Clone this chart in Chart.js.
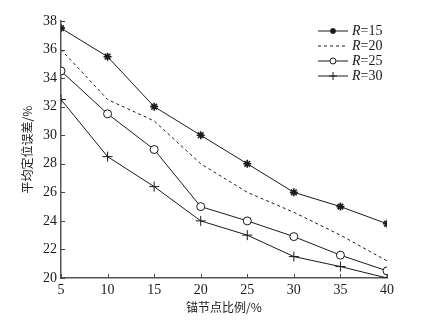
<!DOCTYPE html>
<html>
<head>
<meta charset="utf-8">
<script src="https://cdn.jsdelivr.net/npm/chart.js@4"></script>
<style>
  html, body { margin: 0; padding: 0; background: #fff; }
  #wrap { width: 423px; height: 328px; }
</style>
</head>
<body>
<div id="wrap"><canvas id="c" width="423" height="328"></canvas></div>
<script>
// ─── Data ─────────────────────────────────────────
const categories = [5, 10, 15, 20, 25, 30, 35, 40];
const r15 = [37.5, 35.5, 32.0, 30.0, 28.0, 26.0, 25.0, 23.8];
const r20 = [36.0, 32.5, 31.0, 28.0, 26.0, 24.6, 23.0, 21.2];
const r25 = [34.5, 31.5, 29.0, 25.0, 24.0, 22.9, 21.6, 20.5];
const r30 = [32.5, 28.5, 26.4, 24.0, 23.0, 21.5, 20.8, 20.0];
const seriesNames = ['15', '20', '25', '30'];
const yTicks = [20, 22, 24, 26, 28, 30, 32, 34, 36, 38];

const INK = '#1a1a1a';
const SERIF = "'Liberation Serif', 'DejaVu Serif', serif";
const CJK = "'Noto Sans CJK SC', sans-serif";

const toPts = arr => arr.map((v, i) => ({ x: categories[i], y: v }));

// ─── Inward ticks + custom legend with italic R ───
const decor = {
  id: 'decor',
  afterDraw(chart) {
    const { ctx, scales: { x, y }, chartArea } = chart;
    ctx.save();
    ctx.strokeStyle = '#444';
    ctx.lineWidth = 1;
    categories.forEach(v => {
      const px = Math.round(x.getPixelForValue(v)) + 0.5;
      ctx.beginPath();
      ctx.moveTo(px, chartArea.bottom);
      ctx.lineTo(px, chartArea.bottom - 4);
      ctx.stroke();
    });
    yTicks.forEach(v => {
      const py = Math.round(y.getPixelForValue(v)) + 0.5;
      ctx.beginPath();
      ctx.moveTo(chartArea.left, py);
      ctx.lineTo(chartArea.left + 4, py);
      ctx.stroke();
    });

    // legend
    const x0 = 318, x1 = 348, tx = 352;
    chart.data.datasets.forEach((ds, i) => {
      const ly = 31 + i * 15;
      ctx.strokeStyle = INK;
      ctx.lineWidth = 1;
      ctx.setLineDash(ds.borderDash || []);
      ctx.beginPath();
      ctx.moveTo(x0, ly);
      ctx.lineTo(x1, ly);
      ctx.stroke();
      ctx.setLineDash([]);
      if (ds.pointStyle && ds.pointRadius > 0) {
        ctx.fillStyle = '#fff';
        ctx.lineWidth = ds.pointBorderWidth || 1;
        Chart.helpers.drawPoint(ctx, {
          pointStyle: ds.pointStyle,
          radius: ds.pointRadius - 1,
          borderWidth: ds.pointBorderWidth || 1,
          rotation: 0
        }, (x0 + x1) / 2, ly);
      }
      ctx.fillStyle = INK;
      ctx.textBaseline = 'middle';
      ctx.textAlign = 'left';
      ctx.font = `italic 14px ${SERIF}`;
      ctx.fillText('R', tx, ly);
      const w = ctx.measureText('R').width;
      ctx.font = `14px ${SERIF}`;
      ctx.fillText('=' + seriesNames[i], tx + w, ly);
    });
    ctx.restore();
  }
};

const base = {
  borderColor: INK,
  borderWidth: 1,
  pointBorderColor: INK,
  pointBackgroundColor: '#fff',
  pointBorderWidth: 1,
  tension: 0
};

new Chart(document.getElementById('c'), {
  type: 'line',
  data: {
    datasets: [
      Object.assign({}, base, { label: 'R=15', data: toPts(r15), pointStyle: 'star', pointRadius: 4, pointBorderWidth: 1.6 }),
      Object.assign({}, base, { label: 'R=20', data: toPts(r20), borderDash: [3, 3], pointRadius: 0 }),
      Object.assign({}, base, { label: 'R=25', data: toPts(r25), pointStyle: 'circle', pointRadius: 4 }),
      Object.assign({}, base, { label: 'R=30', data: toPts(r30), pointStyle: 'cross', pointRadius: 5 })
    ]
  },
  options: {
    responsive: false,
    animation: false,
    layout: { padding: { left: 20, right: 36, top: 21, bottom: 13 } },
    plugins: { legend: { display: false }, tooltip: { enabled: false } },
    scales: {
      x: {
        type: 'linear',
        min: 5, max: 40,
        afterBuildTicks: s => { s.ticks = categories.map(v => ({ value: v })); },
        afterFit: s => { s.height = 37; },
        grid: { display: false, drawTicks: false },
        border: { display: true, color: '#555', width: 1.5 },
        ticks: { color: INK, font: { family: SERIF, size: 14 }, padding: 4 },
        title: { display: true, text: '锚节点比例/%', color: INK, font: { family: CJK, size: 12 }, padding: { top: 2, bottom: 0 } }
      },
      y: {
        min: 20, max: 38,
        afterBuildTicks: s => { s.ticks = yTicks.map(v => ({ value: v })); },
        afterFit: s => { s.width = 41; },
        grid: { display: false, drawTicks: false },
        border: { display: true, color: '#555', width: 1.5 },
        ticks: { color: INK, font: { family: SERIF, size: 14 }, padding: 4 },
        title: { display: true, text: '平均定位误差/%', color: INK, font: { family: CJK, size: 12 }, padding: { top: 0, bottom: 2 } }
      }
    }
  },
  plugins: [decor]
});
</script>
</body>
</html>
